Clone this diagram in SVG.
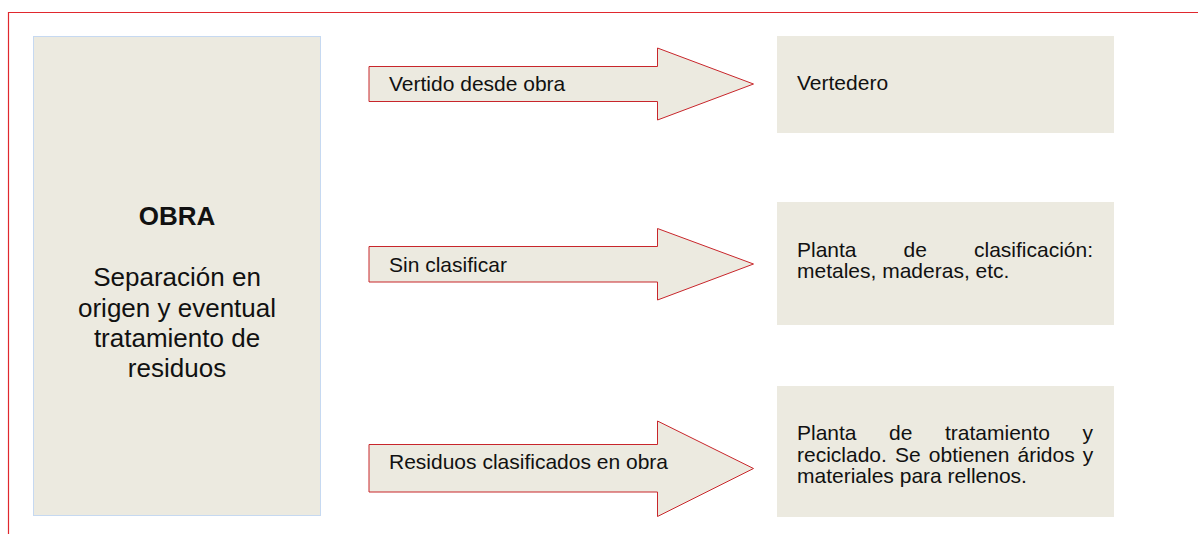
<svg xmlns="http://www.w3.org/2000/svg" width="1198" height="534" viewBox="0 0 1198 534">
<style>
.box{fill:#ECEAE0}
.arrow{fill:#ECEAE0;stroke:#C8262B;stroke-width:1}
.t{font-family:"Liberation Sans",Arial,sans-serif;font-size:21px;fill:#111}
.big{font-family:"Liberation Sans",Arial,sans-serif;font-size:26px;fill:#111;text-anchor:middle}
</style>
<rect width="1198" height="534" fill="#fff"/>
<path d="M8.5,534 V12.5 H1198" fill="none" stroke="#E0282E" stroke-width="1.2"/>
<g id="obra">
<rect x="33.5" y="36.5" width="287" height="479" fill="#ECEAE0" stroke="#C6D9F1" stroke-width="1"/>
<text class="big" x="177" y="225" font-weight="bold">OBRA</text>
<text class="big" x="177" y="286">Separación en</text>
<text class="big" x="177" y="316.5">origen y eventual</text>
<text class="big" x="177" y="347">tratamiento de</text>
<text class="big" x="177" y="377">residuos</text>
</g>
<g id="connectors">
<g id="arrow1">
<polygon class="arrow" points="369,66.5 657.5,66.5 657.5,48 753.5,84 657.5,120 657.5,101.5 369,101.5"/>
<text class="t" x="389" y="90.5">Vertido desde obra</text>
</g>
<g id="arrow2">
<polygon class="arrow" points="369,246.5 657.5,246.5 657.5,228.5 753.5,264 657.5,300 657.5,282 369,282"/>
<text class="t" x="389" y="271.5">Sin clasificar</text>
</g>
<g id="arrow3">
<polygon class="arrow" points="369,444.5 657.5,444.5 657.5,421 753.5,468.5 657.5,516.5 657.5,492 369,492"/>
<text class="t" x="389" y="469">Residuos clasificados en obra</text>
</g>
</g>
<g id="vertedero">
<rect class="box" x="777" y="36" width="337" height="97"/>
<text class="t" x="797" y="90">Vertedero</text>
</g>
<g id="clasificacion">
<rect class="box" x="777" y="202" width="337" height="123"/>
<text class="t" y="256.5"><tspan x="797">Planta</tspan><tspan x="903.5">de</tspan><tspan x="974">clasificación:</tspan></text>
<text class="t" x="797" y="278">metales, maderas, etc.</text>
</g>
<g id="tratamiento">
<rect class="box" x="777" y="386" width="337" height="131"/>
<text class="t" y="440"><tspan x="797">Planta</tspan><tspan x="889">de</tspan><tspan x="945">tratamiento</tspan><tspan x="1082.5">y</tspan></text>
<text class="t" y="461.5"><tspan x="797">reciclado.</tspan><tspan x="895">Se</tspan><tspan x="928.8">obtienen</tspan><tspan x="1017.5">áridos</tspan><tspan x="1082.8">y</tspan></text>
<text class="t" x="797" y="483">materiales para rellenos.</text>
</g>
</svg>
